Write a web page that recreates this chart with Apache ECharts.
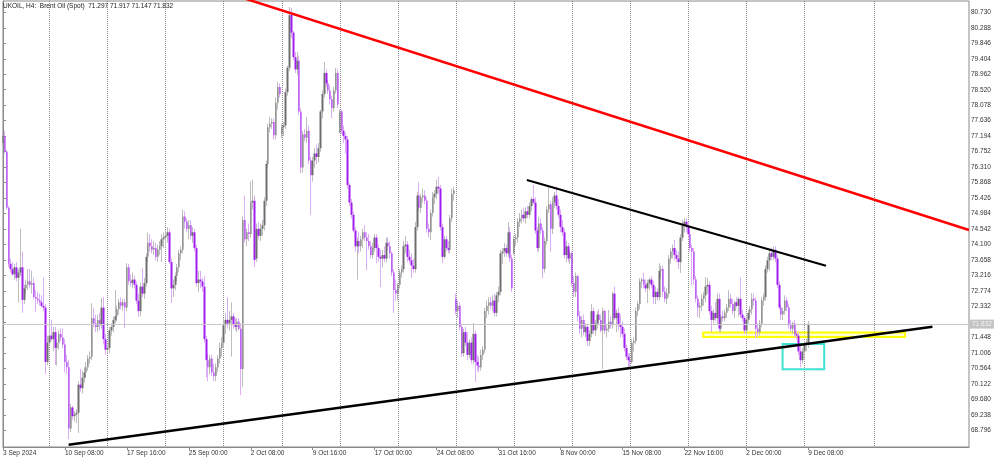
<!DOCTYPE html>
<html><head><meta charset="utf-8">
<script src="https://cdn.jsdelivr.net/npm/echarts@6/dist/echarts.min.js"></script>
<style>html,body{margin:0;padding:0;background:#fff}#c{width:1000px;height:459px}</style>
</head><body><div id="c"></div>
<script>
// ---------- data ----------
const titleText = 'UKOIL, H4:  Brent Oil (Spot)  71.297 71.917 71.147 71.832';
const lastPrice = 71.832;
// time labels shown every 32 H4 bars
const timeLabels = ['3 Sep 2024','10 Sep 08:00','17 Sep 16:00','25 Sep 00:00','2 Oct 08:00','9 Oct 16:00','17 Oct 00:00','24 Oct 08:00','31 Oct 16:00','8 Nov 00:00','15 Nov 08:00','22 Nov 16:00','2 Dec 00:00','9 Dec 08:00'];
const labelStep = 32;
// bar indices of the weekly separators (Monday 00:00)
const weekSeparators = [24,54,84,114,144,174,204,234,264,294,324,354,384,414,450];
const slotCount = 500;
const priceTicks = [68.796,69.238,69.680,70.122,70.564,71.006,71.448,71.890,72.332,72.774,73.216,73.658,74.100,74.542,74.984,75.426,75.868,76.310,76.752,77.194,77.636,78.078,78.520,78.962,79.404,79.846,80.288,80.730];
// H4 candles [open, high, low, close]
const candles = [
[77.00,77.45,76.90,77.20],[77.20,77.35,76.70,76.75],[76.75,76.80,75.10,75.15],[75.15,75.20,73.45,73.55],[73.55,73.70,73.30,73.40],[73.40,73.60,73.20,73.25],[73.25,73.55,73.10,73.45],[73.45,73.60,73.05,73.15],
[73.15,73.40,72.45,73.30],[73.30,74.55,73.20,73.45],[73.45,73.90,72.15,72.52],[72.52,72.95,72.40,72.85],[72.85,73.10,72.70,72.95],[72.95,73.40,72.80,73.05],[73.05,73.40,72.85,72.95],[72.95,73.35,72.70,73.00],
[73.00,73.15,72.55,72.60],[72.60,72.80,72.17,72.55],[72.55,72.75,72.40,72.50],[72.50,72.70,72.35,72.45],[72.45,72.65,72.30,72.35],[72.35,73.15,72.20,72.30],[72.30,72.40,70.40,70.75],[70.75,71.50,70.65,71.30],
[71.30,71.95,71.20,71.50],[71.50,71.95,71.35,71.40],[71.40,71.75,71.05,71.60],[71.60,71.75,70.66,71.15],[71.15,71.40,70.65,71.30],[71.30,71.65,71.10,71.55],[71.55,71.70,71.35,71.45],[71.45,71.70,71.15,71.25],
[71.25,71.40,70.45,70.75],[70.75,70.95,70.40,70.60],[70.60,70.80,68.55,68.85],[68.85,69.55,68.75,69.45],[69.45,69.50,69.10,69.20],[69.20,69.35,69.05,69.25],[69.25,69.40,69.00,69.30],[69.30,70.20,68.72,70.10],
[70.10,70.55,69.90,70.00],[70.00,70.50,69.85,70.30],[70.30,70.60,70.15,70.45],[70.45,70.75,70.30,70.60],[70.60,70.95,70.50,70.85],[70.85,71.05,70.70,70.90],[70.90,72.43,70.80,72.00],[72.00,72.30,71.75,71.85],
[71.85,72.10,71.60,71.75],[71.75,72.10,71.60,71.95],[71.95,72.15,71.65,71.80],[71.80,72.57,71.70,72.30],[72.30,72.60,71.25,71.40],[71.40,71.55,70.95,71.10],[71.10,71.25,71.00,71.15],[71.15,71.75,71.00,71.65],
[71.65,71.85,71.50,71.75],[71.75,72.05,71.60,71.95],[71.95,72.80,71.85,72.05],[72.05,72.35,71.90,72.25],[72.25,72.55,72.10,72.45],[72.45,72.60,72.25,72.35],[72.35,72.55,72.20,72.45],[72.45,72.55,71.72,72.30],
[72.30,73.57,72.20,73.45],[73.45,73.55,72.95,73.05],[73.05,73.25,72.90,73.00],[73.00,73.30,72.85,73.10],[73.10,73.20,72.85,72.95],[72.95,73.05,72.40,72.50],[72.50,72.70,72.03,72.20],[72.20,73.00,72.05,72.90],
[72.90,73.43,72.60,72.70],[72.70,73.15,72.55,73.00],[73.00,73.85,72.90,73.75],[73.75,74.45,73.60,74.15],[74.15,74.40,73.90,74.05],[74.05,74.25,73.85,73.95],[73.95,74.20,73.80,74.00],[74.00,74.15,73.65,73.75],
[73.75,74.10,73.60,73.95],[73.95,74.20,73.80,74.05],[74.05,74.40,73.60,74.25],[74.25,74.45,74.00,74.30],[74.30,74.50,74.10,74.35],[74.35,74.60,74.15,74.45],[74.45,74.55,73.55,73.60],[73.60,73.70,72.43,72.85],
[72.85,73.10,72.60,72.95],[72.95,73.30,72.80,73.20],[73.20,73.55,73.05,73.45],[73.45,73.95,73.30,73.85],[73.85,74.05,73.65,73.95],[73.95,75.10,73.85,74.90],[74.90,75.05,74.55,74.75],[74.75,74.85,74.45,74.55],
[74.55,74.80,74.25,74.65],[74.65,74.80,74.25,74.35],[74.35,74.60,74.15,74.45],[74.45,74.55,73.90,74.00],[74.00,74.10,72.90,73.00],[73.00,73.35,72.75,73.10],[73.10,73.35,72.85,73.05],[73.05,73.15,72.75,72.90],
[72.90,73.20,71.30,71.40],[71.40,71.50,70.30,70.80],[70.80,71.00,70.20,70.60],[70.60,70.95,70.40,70.85],[70.85,70.95,70.35,70.45],[70.45,70.70,70.20,70.35],[70.35,70.70,70.20,70.60],[70.60,70.95,70.45,70.85],
[70.85,71.30,70.70,71.15],[71.15,71.45,70.90,71.30],[71.30,72.00,71.15,71.80],[71.80,72.15,71.55,71.95],[71.95,72.60,71.70,71.85],[71.85,72.20,71.65,71.95],[71.95,72.45,70.90,72.05],[72.05,72.15,71.70,71.80],
[71.80,72.00,71.65,71.75],[71.75,72.00,71.60,71.90],[71.90,72.00,71.65,71.70],[71.70,71.85,69.80,70.55],[70.55,74.90,70.05,74.80],[74.80,75.50,74.15,74.25],[74.25,74.55,74.05,74.45],[74.45,74.70,74.20,74.40],
[74.40,75.90,74.30,75.30],[75.30,75.95,75.10,75.35],[75.35,75.50,73.46,73.66],[73.70,74.70,73.60,74.55],[74.55,74.75,74.25,74.35],[74.35,74.70,74.20,74.55],[74.55,74.80,74.35,74.65],[74.65,75.45,74.50,75.35],
[75.35,76.50,75.20,76.40],[76.40,77.55,76.30,77.45],[77.45,77.74,77.30,77.55],[77.55,77.70,77.40,77.60],[77.60,77.70,77.10,77.22],[77.22,78.30,77.10,78.15],[78.15,78.74,77.95,78.60],[78.60,78.70,78.30,78.40],
[77.25,77.55,77.15,77.45],[77.45,77.60,77.20,77.50],[77.50,78.55,77.40,78.45],[78.45,79.20,78.35,79.15],[79.15,80.88,79.05,80.65],[80.65,80.85,80.00,80.15],[80.15,80.20,79.35,79.45],[79.45,79.60,79.00,79.10],
[79.10,79.60,78.95,79.35],[79.35,79.50,77.80,77.90],[77.90,78.00,76.14,76.30],[76.30,77.35,76.15,77.25],[77.25,77.40,77.05,77.15],[77.15,77.74,77.00,77.35],[77.35,77.50,76.40,76.50],[76.50,76.60,74.95,76.08],
[76.08,76.60,75.90,76.50],[76.50,76.85,76.30,76.70],[76.70,76.95,76.40,76.60],[76.60,77.00,76.45,76.85],[76.85,77.95,76.75,77.90],[77.90,78.50,77.70,78.40],[78.40,79.31,78.30,79.00],[79.00,79.10,78.60,78.70],
[78.70,78.80,78.40,78.50],[78.50,78.65,78.10,78.25],[78.25,78.35,77.71,78.00],[78.00,78.60,77.90,78.50],[78.50,79.14,78.40,79.00],[79.00,79.10,78.00,78.10],[77.30,77.95,77.28,77.90],[77.90,77.95,77.25,77.35],
[77.35,77.50,77.00,77.20],[77.20,77.30,76.70,77.10],[77.10,77.20,75.70,75.80],[75.80,75.85,75.20,75.30],[75.30,75.40,74.85,74.95],[74.95,75.05,74.45,74.50],[74.50,74.60,73.90,74.05],[74.05,74.30,73.10,74.20],
[74.20,74.45,73.85,74.05],[74.05,74.35,73.90,74.25],[74.25,74.55,74.00,74.45],[74.45,74.65,74.20,74.30],[74.30,74.45,73.37,74.20],[74.20,74.40,73.95,74.05],[74.05,74.20,73.70,73.80],[73.80,74.15,73.70,74.00],
[74.00,74.40,73.90,74.30],[74.30,74.40,73.57,74.00],[74.00,74.10,73.60,73.75],[73.75,73.95,72.89,73.70],[73.70,73.95,73.45,73.80],[73.80,74.05,73.60,73.70],[73.70,74.30,73.60,74.15],[74.15,74.30,73.95,74.05],
[74.05,74.20,73.70,73.85],[73.85,73.90,73.20,73.30],[73.30,73.40,72.15,72.80],[72.80,73.10,72.50,72.70],[72.70,73.00,72.50,72.95],[72.95,73.40,72.85,73.30],[73.30,73.50,73.15,73.40],[73.40,74.20,73.30,74.05],
[74.05,74.35,73.85,74.10],[74.10,74.20,73.60,73.75],[73.75,73.95,73.55,73.65],[73.65,73.85,73.15,73.50],[73.50,73.70,73.30,73.40],[73.40,74.75,73.30,74.60],[74.60,75.60,74.50,75.50],[75.50,75.88,75.05,75.15],
[75.15,75.55,75.00,75.45],[75.45,75.70,75.30,75.50],[75.50,75.65,75.25,75.35],[75.35,75.45,74.45,74.55],[74.55,74.70,74.30,74.45],[74.45,75.10,74.23,75.00],[75.00,75.60,74.90,75.45],[75.45,75.65,75.25,75.55],
[75.55,75.95,75.40,75.75],[75.75,76.03,75.55,75.70],[75.70,75.80,74.50,74.60],[74.60,74.70,73.57,73.75],[73.75,74.35,73.70,74.25],[74.25,74.35,73.90,74.00],[74.00,74.20,73.85,73.95],[73.95,74.95,73.85,74.85],
[74.85,75.70,74.75,75.55],[75.55,75.75,75.35,75.65],[72.55,72.70,72.10,72.20],[72.20,72.50,72.00,72.35],[72.35,72.45,71.65,71.75],[71.75,71.85,70.90,71.00],[71.00,71.70,70.90,71.60],[71.60,71.75,71.20,71.30],
[71.30,71.60,70.80,70.95],[70.95,71.40,70.85,71.30],[71.30,71.45,70.70,70.80],[70.80,71.86,70.70,71.55],[71.55,71.65,70.18,70.75],[70.75,70.95,70.50,70.65],[70.65,70.90,70.45,70.60],[70.60,71.10,70.50,70.95],
[70.95,71.20,70.80,71.10],[71.10,72.30,71.00,72.20],[72.20,72.50,72.00,72.35],[72.35,72.60,72.10,72.45],[72.45,72.60,72.25,72.35],[72.35,72.65,72.20,72.50],[72.50,72.70,72.05,72.15],[72.15,72.75,72.05,72.65],
[72.65,72.90,72.45,72.75],[72.75,73.95,72.65,73.85],[73.85,74.00,73.55,73.90],[73.90,74.15,73.75,74.00],[74.00,74.10,73.75,73.85],[73.85,74.74,73.75,74.45],[74.45,74.60,73.60,73.70],[73.70,73.80,72.75,72.85],
[73.85,74.35,73.80,74.25],[74.25,74.40,74.05,74.30],[74.30,74.85,74.15,74.75],[74.75,75.00,74.60,74.85],[74.85,75.10,74.70,74.95],[74.95,75.15,74.75,74.85],[74.85,75.17,74.70,75.05],[75.05,75.20,74.85,74.95],
[74.95,75.30,74.85,75.20],[75.20,75.45,75.05,75.40],[75.40,75.80,75.25,75.30],[75.30,75.45,74.40,74.50],[74.50,74.60,73.90,74.00],[74.00,74.90,73.90,74.70],[74.70,74.85,74.40,74.50],[74.50,74.60,73.14,73.40],
[73.40,74.30,73.30,74.20],[74.20,75.20,74.10,75.10],[75.10,75.74,75.00,75.25],[75.25,75.35,73.90,74.55],[74.55,75.45,74.40,75.30],[75.30,75.60,75.15,75.50],[75.50,75.75,75.10,75.20],[75.20,75.40,74.85,74.95],
[74.95,75.10,74.45,74.60],[74.60,74.80,74.35,74.45],[74.45,74.55,73.70,73.80],[73.80,74.20,73.60,74.05],[74.05,74.15,73.60,73.70],[73.70,73.95,73.55,73.85],[73.85,73.90,72.90,73.00],[73.00,73.20,72.60,72.75],
[72.75,73.30,72.60,73.20],[73.20,73.25,71.90,72.05],[72.05,72.20,71.55,71.70],[71.70,72.05,71.45,71.95],[71.95,72.10,71.50,71.60],[71.60,71.85,71.45,71.75],[71.75,71.85,71.20,71.35],[71.35,71.65,71.20,71.55],
[71.55,72.40,71.45,72.20],[72.20,72.30,71.55,71.65],[71.65,71.95,71.50,71.85],[71.85,72.20,71.70,72.10],[72.10,72.25,71.80,71.95],[71.95,72.10,71.60,71.65],[71.65,72.30,70.55,72.20],[72.20,72.25,71.55,71.65],
[71.65,71.80,71.45,71.70],[71.70,72.23,71.60,71.90],[71.90,72.05,71.70,71.80],[71.80,72.75,71.70,72.70],[72.70,72.90,71.95,72.00],[72.00,72.25,71.60,72.15],[72.15,72.30,71.65,71.80],[71.80,72.10,71.45,71.75],
[71.75,71.90,71.45,71.55],[71.55,71.70,71.05,71.15],[71.15,71.25,70.80,70.90],[70.90,71.00,70.57,70.80],[70.80,71.00,70.60,70.75],[70.75,71.40,70.70,71.30],[71.30,71.45,71.05,71.35],[71.35,72.30,71.25,72.20],
[72.20,72.50,72.05,72.40],[72.40,73.14,72.25,73.05],[73.05,73.15,72.85,73.10],[73.10,73.30,72.85,72.95],[72.95,73.10,72.75,72.85],[72.85,73.10,72.43,73.00],[73.00,73.15,72.80,73.10],[73.10,73.20,72.85,72.95],
[72.95,73.05,72.40,72.60],[72.60,72.90,72.40,72.75],[72.75,72.85,72.50,72.60],[72.60,73.57,72.50,73.35],[73.35,73.50,73.15,73.40],[73.40,73.50,72.60,72.75],[72.75,72.90,72.45,72.55],[72.55,72.85,72.40,72.70],
[72.70,73.80,72.60,73.70],[73.70,74.00,73.55,73.90],[73.90,74.10,73.70,74.00],[74.00,74.23,73.65,73.80],[73.80,73.95,73.60,73.70],[73.70,73.90,73.40,73.60],[73.60,74.40,73.29,74.30],[74.30,74.80,74.20,74.65],
[74.65,74.85,74.45,74.75],[74.75,74.85,74.45,74.60],[74.60,74.75,74.30,74.40],[74.40,74.50,73.90,74.00],[74.00,74.10,72.95,73.90],[73.90,74.00,72.95,73.10],[73.10,73.20,72.45,72.55],[72.55,72.65,72.03,72.30],
[72.30,72.45,72.00,72.35],[72.35,72.70,72.20,72.55],[72.55,72.75,72.35,72.65],[72.65,73.17,72.45,72.90],[72.90,73.15,72.70,72.95],[72.95,73.05,72.10,72.20],[72.20,72.35,71.60,71.95],[71.95,72.25,71.85,72.15],
[72.15,72.45,71.90,72.00],[72.00,72.70,71.80,72.55],[72.55,72.70,71.60,71.70],[71.70,72.10,71.60,72.05],[72.05,72.20,71.90,72.00],[72.00,72.25,71.90,72.15],[72.15,72.40,72.00,72.30],[72.30,72.80,72.20,72.55],
[72.55,72.70,72.30,72.40],[72.40,72.55,72.10,72.20],[72.20,72.50,72.00,72.45],[72.45,72.60,72.30,72.35],[72.35,72.60,72.05,72.55],[72.55,73.15,72.00,72.10],[72.10,72.25,71.90,72.00],[72.00,72.05,71.55,71.65],
[71.65,72.05,71.55,71.95],[71.95,72.25,71.85,72.15],[72.15,72.35,72.00,72.25],[72.25,72.71,72.10,72.55],[72.55,72.70,72.35,72.50],[72.50,72.60,71.43,71.70],[71.70,71.85,71.45,71.60],[71.60,71.95,71.50,71.85],
[71.85,72.60,71.75,72.50],[72.50,72.70,72.35,72.60],[72.60,73.50,72.50,73.40],[73.40,73.75,73.30,73.65],[73.65,73.95,73.35,73.85],[73.85,74.00,73.65,73.75],[73.75,74.05,73.65,73.95],[73.95,74.05,73.60,73.70],
[73.70,73.80,72.85,72.95],[72.95,73.05,72.25,72.30],[72.30,72.40,71.95,72.10],[72.10,72.30,71.95,72.20],[72.20,72.65,72.10,72.50],[72.50,72.60,72.20,72.30],[72.30,72.40,71.70,71.80],[71.80,71.95,71.60,71.70],
[71.70,71.90,71.55,71.85],[71.85,71.95,71.45,71.55],[71.55,71.65,71.40,71.50],[71.50,71.60,70.95,71.05],[71.05,71.25,70.60,70.80],[70.80,71.15,70.70,71.05],[71.05,71.35,70.90,71.25],[71.25,71.40,71.05,71.297],
[71.297,71.917,71.147,71.832]
];
// trend lines: [bar position, price]
const redLine = [[120, 81.21], [499, 74.515]];
const supportLine = [[33.9, 68.386], [480.1, 71.755]];
const resistLine = [[270.6, 75.943], [425.1, 73.496]];
// boxes: [[bar start, price top], [bar end, price bottom]]
const yellowBox = [[361.7, 71.589], [466.0, 71.461]];
const cyanBox = [[402.7, 71.261], [424.2, 70.538]];

// ---------- build ----------
const slots = [];
{
  let t = Date.UTC(2024, 8, 3, 0);
  while (slots.length < slotCount) {
    const d = new Date(t);
    const wd = d.getUTCDay();
    if (wd !== 0 && wd !== 6) slots.push(d.toISOString().slice(0, 16));
    t += 4 * 3600 * 1000;
  }
}
const lastIndex = candles.length - 1;
const wickData = candles.map(c => [c[0], c[3], c[2], c[1]]);
const bodyData = candles.map(c => [c[0], c[3], Math.min(c[0], c[3]), Math.max(c[0], c[3])]);
const FONT = 'Liberation Sans';
const showLabel = i => i % labelStep === 0 && i <= lastIndex;

const chart = echarts.init(document.getElementById('c'), null, {renderer: 'canvas'});
chart.setOption({
  animation: false,
  backgroundColor: '#ffffff',
  textStyle: {fontFamily: FONT},
  grid: {left: 1, right: 31, top: 1, bottom: 12, show: true, borderColor: '#8a8a8a', borderWidth: 1, backgroundColor: '#fff'},
  graphic: [{type: 'text', left: 3, top: 3, z: 100,
    style: {text: titleText, fontSize: 6.5, fontFamily: FONT, fill: '#222'}}],
  xAxis: [{
    type: 'category', data: slots, boundaryGap: false,
    axisLine: {show: true, lineStyle: {color: '#8a8a8a'}},
    axisTick: {show: true, interval: showLabel, length: 3, lineStyle: {color: '#8a8a8a'}},
    axisLabel: {interval: showLabel, formatter: (v, i) => timeLabels[i / labelStep], align: 'left',
      fontSize: 6.5, color: '#333', margin: 3, fontFamily: FONT},
    splitLine: {show: true, interval: i => weekSeparators.includes(i),
      lineStyle: {color: '#8c8c8c', type: [1, 1], width: 1}}
  }, {
    type: 'value', min: 0, max: slotCount - 1, show: false
  }],
  yAxis: [{
    type: 'value', position: 'right', min: 68.321, max: 81.053, scale: true,
    axisLine: {show: true, lineStyle: {color: '#8a8a8a'}},
    axisTick: {show: true, customValues: priceTicks, length: 3, lineStyle: {color: '#8a8a8a'}},
    axisLabel: {customValues: priceTicks.filter(v => Math.abs(v - lastPrice) > 0.1),
      formatter: v => v.toFixed(3), fontSize: 6.5, color: '#333', margin: 2, fontFamily: FONT},
    splitLine: {show: false}
  }],
  series: [{
    type: 'candlestick', name: 'wicks', data: wickData, barWidth: 1, z: 2, silent: true,
    itemStyle: {color: '#bdbdbd', color0: '#dcaef5', borderColor: '#bdbdbd', borderColor0: '#dcaef5', borderWidth: 1}
  }, {
    type: 'candlestick', name: 'bodies', data: bodyData, barWidth: 2, z: 3, silent: true,
    itemStyle: {color: '#6e6e6e', color0: '#a01ff0', borderColor: '#6e6e6e', borderColor0: '#a01ff0', borderWidth: 0},
    markLine: {
      silent: true, symbol: ['none', 'none'], animation: false,
      lineStyle: {color: '#c8c8c8', width: 1, type: 'solid'},
      label: {show: true, position: 'end', formatter: lastPrice.toFixed(3), backgroundColor: '#c3c3c3',
        color: '#f4f4f4', fontSize: 6.5, padding: [1, 2, 1, 2], distance: 1, fontFamily: FONT},
      data: [{yAxis: lastPrice}]
    }
  }, {
    type: 'line', name: 'red', xAxisIndex: 1, yAxisIndex: 0, data: redLine, symbol: 'none', z: 6, silent: true,
    lineStyle: {color: '#ff0000', width: 2.5}
  }, {
    type: 'line', name: 'resistance', xAxisIndex: 1, yAxisIndex: 0, data: resistLine, symbol: 'none', z: 6, silent: true,
    lineStyle: {color: '#000000', width: 2.2}
  }, {
    type: 'line', name: 'support', xAxisIndex: 1, yAxisIndex: 0, data: supportLine, symbol: 'none', z: 6, silent: true,
    lineStyle: {color: '#000000', width: 2.6},
    markArea: {
      silent: true,
      data: [
        [{coord: yellowBox[0], itemStyle: {color: 'rgba(255,255,170,0.55)', borderColor: '#ffff00', borderWidth: 2}}, {coord: yellowBox[1]}],
        [{coord: cyanBox[0], itemStyle: {color: 'rgba(0,0,0,0)', borderColor: '#40e0d0', borderWidth: 2}}, {coord: cyanBox[1]}]
      ]
    }
  }]
});
</script></body></html>
